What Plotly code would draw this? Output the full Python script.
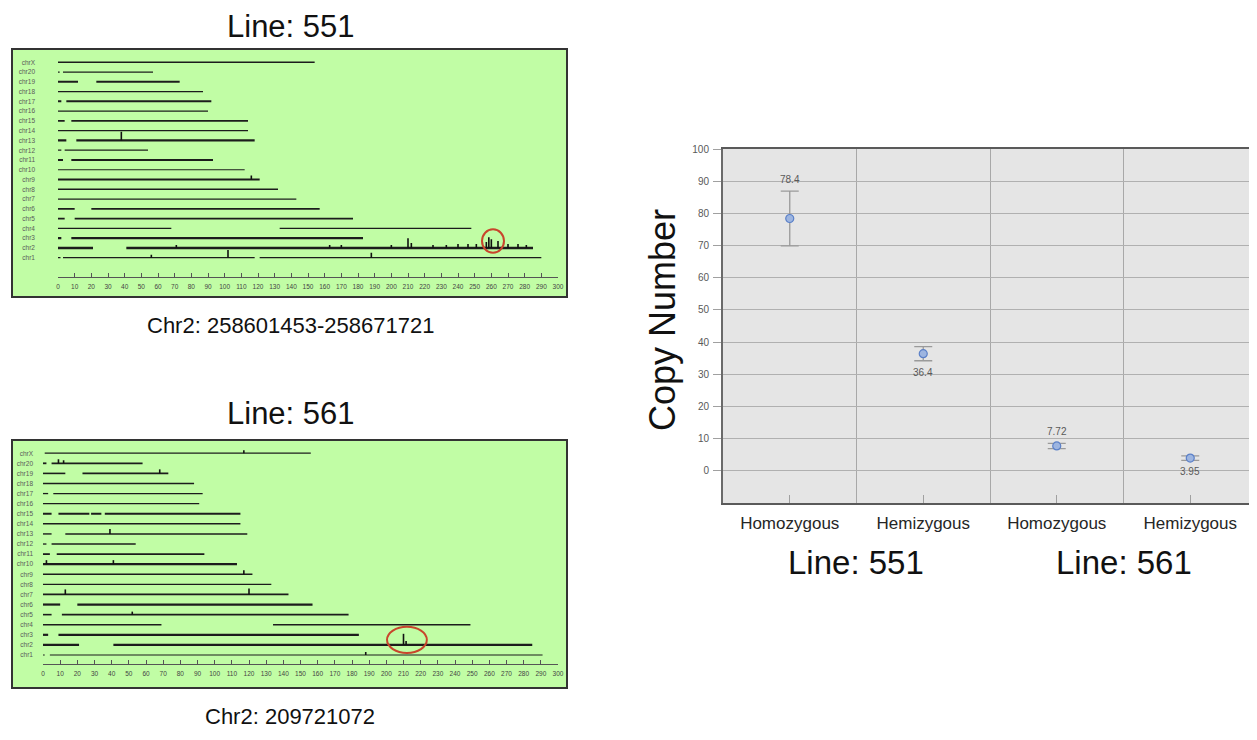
import plotly.graph_objects as go

W, H = 1257, 740
OFF = 8                     # page body margin in the browser
FW, FH = W - OFF, H - OFF   # figure size so that it fits the window exactly
FONT = "Arial, 'Liberation Sans', sans-serif"

# ---------------- data ----------------
CHROMS = ["chr1", "chr2", "chr3", "chr4", "chr5", "chr6", "chr7", "chr8", "chr9", "chr10",
          "chr11", "chr12", "chr13", "chr14", "chr15", "chr16", "chr17", "chr18", "chr19",
          "chr20", "chrX"]
GENOME_TICKS = list(range(0, 301, 10))

# Line 551 genome view: covered segments (Mb) per chromosome
SEG_551 = [
    [(0, 1.5), (3, 118), (121, 290)],          # chr1
    [(0, 21), (41, 285)],                      # chr2
    [(0, 2), (8, 183)],                        # chr3
    [(0, 68), (133, 248)],                     # chr4
    [(0, 4), (10, 177)],                       # chr5
    [(0, 10), (20, 157)],                      # chr6
    [(0, 143)],                                # chr7
    [(0, 132)],                                # chr8
    [(0, 121)],                                # chr9
    [(0, 112)],                                # chr10
    [(0, 3), (8, 93)],                         # chr11
    [(0, 2), (4, 54)],                         # chr12
    [(0, 5), (11, 118)],                       # chr13
    [(0, 114)],                                # chr14
    [(0, 4), (8, 114)],                        # chr15
    [(0, 90)],                                 # chr16
    [(0, 2), (5, 92)],                         # chr17
    [(0, 87)],                                 # chr18
    [(0, 12), (23, 73)],                       # chr19
    [(0, 1), (3, 57)],                         # chr20
    [(0, 154)],                                # chrX
]
WIDTH_551 = [1.2, 2.6, 2.2, 1.2, 1.8, 1.8, 1.2, 1.5, 2.0, 1.2, 2.0,
             1.2, 2.2, 1.2, 1.8, 1.2, 2.0, 1.2, 2.0, 1.2, 1.5]
SPIKE_551_CHR = ["chr1", "chr1", "chr1", "chr13", "chr9", "chr2", "chr2", "chr2", "chr2",
                 "chr2", "chr2", "chr2", "chr2", "chr2", "chr2", "chr2", "chr2", "chr2",
                 "chr2", "chr2", "chr2", "chr2", "chr2"]
SPIKE_551_POS = [56, 102, 188, 38, 116, 71, 163, 170, 200, 210, 212, 225, 233, 240,
                 246, 251, 257, 258.5, 260, 264, 270, 276, 281]
SPIKE_551_H = [0.3, 0.8, 0.5, 0.9, 0.4, 0.3, 0.3, 0.3, 0.3, 1.0, 0.5, 0.3, 0.3, 0.4,
               0.4, 0.4, 0.6, 1.1, 0.9, 0.7, 0.4, 0.4, 0.3]

# Line 561 genome view
SEG_561 = [
    [(0, 1), (4, 291)],                        # chr1
    [(0, 21), (41, 285)],                      # chr2
    [(0, 3), (9, 184)],                        # chr3
    [(0, 69), (134, 249)],                     # chr4
    [(0, 5), (11, 178)],                       # chr5
    [(0, 10), (20, 157)],                      # chr6
    [(0, 143)],                                # chr7
    [(0, 133)],                                # chr8
    [(0, 122)],                                # chr9
    [(0, 113)],                                # chr10
    [(0, 4), (8, 94)],                         # chr11
    [(0, 2), (5, 54)],                         # chr12
    [(0, 5), (13, 119)],                       # chr13
    [(0, 115)],                                # chr14
    [(0, 5), (9, 27), (28, 34), (36, 115)],    # chr15
    [(0, 91)],                                 # chr16
    [(0, 3), (6, 93)],                         # chr17
    [(0, 88)],                                 # chr18
    [(0, 13), (23, 73)],                       # chr19
    [(0, 2), (5, 58)],                         # chr20
    [(1, 156)],                                # chrX
]
WIDTH_561 = [1.2, 2.4, 2.2, 1.3, 1.6, 2.2, 1.8, 1.4, 1.5, 2.2, 1.8,
             1.3, 1.4, 1.5, 2.0, 1.4, 1.3, 1.4, 1.6, 1.8, 1.2]
SPIKE_561_CHR = ["chr2", "chr2", "chr7", "chr7", "chr9", "chr10", "chr10", "chr13",
                 "chr19", "chr20", "chr20", "chrX", "chr1", "chr5"]
SPIKE_561_POS = [210, 211.5, 13, 120, 117, 2, 41, 39, 68, 9, 12, 117, 188, 52]
SPIKE_561_H = [1.1, 0.4, 0.5, 0.6, 0.4, 0.4, 0.4, 0.5, 0.4, 0.4, 0.3, 0.3, 0.3, 0.3]

# red highlight circles: (centre Mb, centre row, half-width Mb, half-height rows)
CIRCLE_551 = (261, 2.7, 6.6, 1.2)
CIRCLE_561 = (212, 2.5, 11.6, 1.3)

# Copy number chart
ZYGOSITY = ["Homozygous", "Hemizygous", "Homozygous", "Hemizygous"]
COPY_NUMBER = [78.4, 36.4, 7.72, 3.95]
COPY_ERR = [8.5, 2.2, 0.8, 0.7]
LABEL_SIDE = ["above", "below", "above", "below"]
LINE_NAMES = ["Line: 551", "Line: 561"]
Y_TICKS = list(range(0, 101, 10))


def px_x(p):
    return (p - OFF) / FW


def px_y(p):
    return 1 - (p - OFF) / FH


fig = go.Figure()


def add_genome(segs, widths, sp_chr, sp_pos, sp_h, xa, ya):
    for i, ch in enumerate(CHROMS):
        row = i + 1
        xs, ys = [], []
        for s, e in segs[i]:
            xs += [s, e, None]
            ys += [row, row, None]
        fig.add_trace(go.Scatter(x=xs, y=ys, mode="lines", xaxis=xa, yaxis=ya,
                                 line=dict(color="#1c1c1c", width=widths[i]),
                                 hoverinfo="skip", showlegend=False))
    xs, ys = [], []
    for c, p, h in zip(sp_chr, sp_pos, sp_h):
        row = CHROMS.index(c) + 1
        xs += [p, p, None]
        ys += [row, row + h, None]
    fig.add_trace(go.Scatter(x=xs, y=ys, mode="lines", xaxis=xa, yaxis=ya,
                             line=dict(color="#111111", width=1.6),
                             hoverinfo="skip", showlegend=False))


add_genome(SEG_551, WIDTH_551, SPIKE_551_CHR, SPIKE_551_POS, SPIKE_551_H, "x", "y")
add_genome(SEG_561, WIDTH_561, SPIKE_561_CHR, SPIKE_561_POS, SPIKE_561_H, "x2", "y2")

# copy number points
cats = list(range(len(ZYGOSITY)))
fig.add_trace(go.Scatter(
    x=cats, y=COPY_NUMBER, mode="markers", xaxis="x3", yaxis="y3",
    marker=dict(size=8, color="#9db5e0", line=dict(color="#5b80c8", width=1.2)),
    error_y=dict(type="data", array=COPY_ERR, visible=True, color="#9a9a9a",
                 thickness=1.3, width=9),
    hoverinfo="skip", showlegend=False))

annotations = []
for c, v, e, side in zip(cats, COPY_NUMBER, COPY_ERR, LABEL_SIDE):
    if side == "above":
        annotations.append(dict(x=c, y=v + e, xref="x3", yref="y3", text=f"{v:g}",
                                showarrow=False, xanchor="center", yanchor="bottom",
                                yshift=4,
                                font=dict(family=FONT, size=10, color="#595959")))
    else:
        annotations.append(dict(x=c, y=v - e, xref="x3", yref="y3", text=f"{v:g}",
                                showarrow=False, xanchor="center", yanchor="top",
                                yshift=-4,
                                font=dict(family=FONT, size=10, color="#595959")))

# line names under the chart, centred under each pair of categories
for k, name in enumerate(LINE_NAMES):
    annotations.append(dict(x=(cats[2 * k] + cats[2 * k + 1]) / 2, y=px_y(562),
                            xref="x3", yref="paper", text=name, showarrow=False,
                            xanchor="center", yanchor="middle",
                            font=dict(family=FONT, size=33, color="#111111")))

annotations.append(dict(x=px_x(662), y=px_y(320), xref="paper", yref="paper",
                        text="Copy Number", textangle=-90, showarrow=False,
                        xanchor="center", yanchor="middle",
                        font=dict(family=FONT, size=36, color="#111111")))

# left panel titles
for txt, cx, cy, size in [(LINE_NAMES[0], 291, 27, 31),
                          ("Chr2: 258601453-258671721", 290, 325, 22),
                          (LINE_NAMES[1], 291, 413, 31),
                          ("Chr2: 209721072", 290, 716, 22)]:
    annotations.append(dict(x=px_x(cx), y=px_y(cy), xref="paper", yref="paper",
                            text=txt, showarrow=False, xanchor="center",
                            yanchor="middle",
                            font=dict(family=FONT, size=size, color="#111111")))

GREEN = "#c1fda5"
shapes = [
    dict(type="rect", xref="paper", yref="paper", x0=px_x(12), x1=px_x(567),
         y0=px_y(297), y1=px_y(49), fillcolor=GREEN, line=dict(color="#333333", width=2),
         layer="below"),
    dict(type="rect", xref="paper", yref="paper", x0=px_x(12), x1=px_x(567),
         y0=px_y(688), y1=px_y(440), fillcolor=GREEN, line=dict(color="#333333", width=2),
         layer="below"),
    dict(type="rect", xref="paper", yref="paper", x0=px_x(723), x1=1.0,
         y0=px_y(503), y1=px_y(149), fillcolor="#e5e5e5", line=dict(width=0),
         layer="below"),
]
for (cx, cy, rx, ry), xa, ya in [(CIRCLE_551, "x", "y"), (CIRCLE_561, "x2", "y2")]:
    shapes.append(dict(type="circle", xref=xa, yref=ya, x0=cx - rx, x1=cx + rx,
                       y0=cy - ry, y1=cy + ry, line=dict(color="#c8462c", width=2)))

genome_x = dict(range=[0, 300], tickvals=GENOME_TICKS, showgrid=False, zeroline=False,
                showline=True, linecolor="#555555", linewidth=1, ticks="inside",
                ticklen=4, tickcolor="#555555", ticklabelstandoff=3, automargin=False,
                tickfont=dict(family=FONT, size=6.5, color="#444444"))
genome_y = dict(tickvals=[i + 1 for i in range(len(CHROMS))], ticktext=CHROMS,
                showgrid=False, zeroline=False, showline=False, ticks="",
                automargin=False,
                tickfont=dict(family=FONT, size=6.5, color="#5a5a5a"))

fig.update_layout(
    template="none",
    width=FW, height=FH, margin=dict(l=0, r=0, t=0, b=0, pad=0, autoexpand=False),
    paper_bgcolor="white", plot_bgcolor="rgba(0,0,0,0)",
    showlegend=False, shapes=shapes, annotations=annotations,
    xaxis=dict(domain=[px_x(58), px_x(558)], anchor="y", **genome_x),
    yaxis=dict(domain=[px_y(276.7), px_y(49)], anchor="x", range=[-0.945, 22.36],
               ticklabelstandoff=22, **genome_y),
    xaxis2=dict(domain=[px_x(43), px_x(558)], anchor="y2", **genome_x),
    yaxis2=dict(domain=[px_y(664), px_y(440)], anchor="x2", range=[0.108, 22.31],
                ticklabelstandoff=9, **genome_y),
    xaxis3=dict(domain=[px_x(723), 1.0], anchor="y3", range=[-0.5, 3.5],
                tickvals=cats, ticktext=ZYGOSITY, showgrid=False, zeroline=False,
                showline=True, linecolor="#5a5a5a", linewidth=2, mirror=True,
                ticks="inside", ticklen=8, tickcolor="#a0a0a0",
                ticklabelstandoff=4, automargin=False,
                tickfont=dict(family=FONT, size=17, color="#262626"),
                minor=dict(tickvals=[0.5, 1.5, 2.5], showgrid=True,
                           gridcolor="#a8a8a8", gridwidth=1.3, ticks="")),
    yaxis3=dict(domain=[px_y(503), px_y(149)], anchor="x3", range=[-10, 100],
                tickvals=Y_TICKS, showgrid=True, gridcolor="#b0b0b0", gridwidth=1.3,
                zeroline=False, showline=True, linecolor="#6a6a6a", linewidth=2,
                mirror=True, ticks="outside", ticklen=8, tickcolor="#a0a0a0",
                ticklabelstandoff=2, automargin=False,
                tickfont=dict(family=FONT, size=10, color="#595959")),
)

fig.write_html("out.html")
